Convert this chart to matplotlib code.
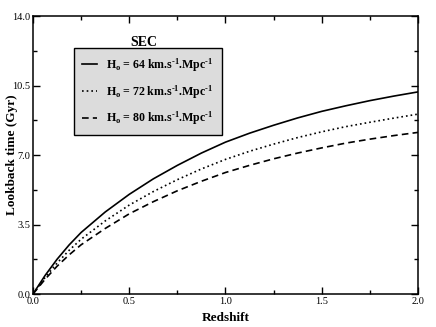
import numpy as np
import matplotlib
matplotlib.use('Agg')
import matplotlib.pyplot as plt
from matplotlib.ticker import MultipleLocator, FormatStrFormatter

plt.rcParams['font.family'] = ['Liberation Serif', 'DejaVu Serif']
plt.rcParams['mathtext.fontset'] = 'custom'
plt.rcParams['mathtext.rm'] = 'Liberation Serif:bold'
plt.rcParams['mathtext.bf'] = 'Liberation Serif:bold'
plt.rcParams['mathtext.it'] = 'Liberation Serif:bold'

# redshift grid and lookback times (Gyr)
z = [0.0, 0.0625, 0.125, 0.1875, 0.25, 0.375, 0.5, 0.625, 0.75, 0.875,
     1.0, 1.125, 1.25, 1.375, 1.5, 1.625, 1.75, 1.875, 2.0]
t_64 = [0.0, 0.93, 1.75, 2.47, 3.10, 4.13, 5.02, 5.80, 6.48, 7.10,
        7.65, 8.10, 8.50, 8.87, 9.20, 9.48, 9.74, 9.97, 10.18]
t_72 = [0.0, 0.83, 1.56, 2.20, 2.76, 3.68, 4.48, 5.16, 5.76, 6.30,
        6.78, 7.19, 7.55, 7.88, 8.17, 8.43, 8.65, 8.86, 9.06]
t_80 = [0.0, 0.74, 1.40, 1.97, 2.48, 3.30, 4.04, 4.65, 5.20, 5.68,
        6.12, 6.48, 6.81, 7.10, 7.36, 7.60, 7.80, 7.98, 8.14]

labels = [r'$H_o$ = 64 km.s$^{\text{-1}}$.Mpc$^{\text{-1}}$',
          r'$H_o$ = 72 km.s$^{\text{-1}}$.Mpc$^{\text{-1}}$',
          r'$H_o$ = 80 km.s$^{\text{-1}}$.Mpc$^{\text{-1}}$']

fig = plt.figure(figsize=(4.36, 3.27), dpi=100)
ax = fig.add_axes([0.0757, 0.1009, 0.883, 0.850])

ax.plot(z, t_64, color='black', lw=1.2, ls='-', label=labels[0])
ax.plot(z, t_72, color='black', lw=1.2, ls=(0, (1, 1.8)), label=labels[1])
ax.plot(z, t_80, color='black', lw=1.2, ls=(0, (4, 2.5)), label=labels[2])

ax.set_xlim(0, 2.0)
ax.set_ylim(0, 14.0)
ax.xaxis.set_major_locator(MultipleLocator(0.5))
ax.xaxis.set_minor_locator(MultipleLocator(0.25))
ax.yaxis.set_major_locator(MultipleLocator(3.5))
ax.yaxis.set_minor_locator(MultipleLocator(1.75))
ax.xaxis.set_major_formatter(FormatStrFormatter('%.1f'))
ax.yaxis.set_major_formatter(FormatStrFormatter('%.1f'))
ax.tick_params(which='both', direction='in', top=True, right=True,
               labelsize=7.5, width=1.0, pad=2)
ax.tick_params(which='major', length=5)
ax.tick_params(which='minor', length=3)
for sp in ax.spines.values():
    sp.set_linewidth(1.1)

ax.set_xlabel('Redshift', fontsize=9.5, fontweight='bold')
ax.set_ylabel('Lookback time (Gyr)', fontsize=9.5, fontweight='bold')
ax.xaxis.set_label_coords(0.5, -0.064)
ax.yaxis.set_label_coords(-0.038, 0.5)

leg = ax.legend(loc='upper left', bbox_to_anchor=(0.1065, 0.885),
                fontsize=8.6, frameon=True, fancybox=False, framealpha=1,
                facecolor='#dcdcdc', edgecolor='black', borderaxespad=0,
                handlelength=1.26, handletextpad=0.75, labelspacing=0.75,
                borderpad=0.7)
leg.get_frame().set_linewidth(1.0)
for txt in leg.get_texts():
    txt.set_fontweight('bold')

ax.text(0.287, 0.892, 'SEC', transform=ax.transAxes, ha='center', va='baseline',
        fontsize=10, fontweight='bold')

fig.savefig('out.png', dpi=100)
